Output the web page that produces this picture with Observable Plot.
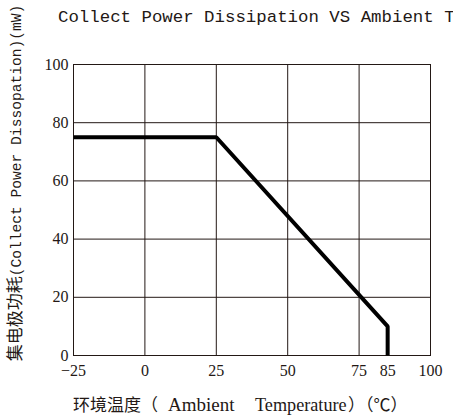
<!DOCTYPE html>
<html>
<head>
<meta charset="utf-8">
<script src="https://cdn.jsdelivr.net/npm/d3@7"></script>
<script src="https://cdn.jsdelivr.net/npm/@observablehq/plot@0.6"></script>
<style>
  html, body { margin: 0; padding: 0; background: #fff; }
</style>
</head>
<body>
<div id="chart"></div>
<script>
// Data
const tempX = [-25, 25, 85, 85];        // Ambient temperature (°C)
const powerY = [75, 75, 10, 0];         // Collector power dissipation (mW)

const xTicks = [-25, 0, 25, 50, 75, 85, 100];
const xGrid = [0, 25, 50, 75];
const yTicks = [0, 20, 40, 60, 80, 100];
const yGrid = [20, 40, 60, 80];

const titleText = "Collect Power Dissipation VS Ambient Temperature";
const yLabelCJK = "集电极功耗";
const yLabelLatin = "(Collect Power Dissopation)(mW)";
const xLabelCJK1 = "环境温度（";
const xLabelA = "Ambient";
const xLabelB = "Temperature";
const xLabelCJK2 = "）（℃）";

const ink = "#231815";

const chart = Plot.plot({
  width: 453,
  height: 419,
  marginLeft: 73,
  marginRight: 23,
  marginTop: 64,
  marginBottom: 64,
  style: {fontFamily: "'Liberation Serif', serif", fontSize: "16px", color: ink, background: "white"},
  x: {domain: [-25, 100], ticks: xTicks, tickFormat: d => d < 0 ? `−${-d}` : `${d}`, tickSize: 0, tickPadding: 9, label: null},
  y: {domain: [0, 100], ticks: yTicks, tickSize: 0, tickPadding: 5, label: null},
  marks: [
    Plot.gridX(xGrid, {stroke: ink, strokeOpacity: 1, strokeWidth: 1}),
    Plot.gridY(yGrid, {stroke: ink, strokeOpacity: 1, strokeWidth: 1}),
    Plot.frame({stroke: ink, strokeWidth: 1}),
    Plot.line(d3.range(tempX.length), {
      x: i => tempX[i],
      y: i => powerY[i],
      stroke: "#000",
      strokeWidth: 4,
      strokeLinejoin: "miter",
      strokeLinecap: "butt"
    })
  ]
});

document.getElementById("chart").appendChild(chart);

const svg = d3.select(chart);

// Title (runs off the right edge, as in the reference)
svg.append("text")
  .attr("x", 58)
  .attr("y", 22)
  .attr("text-anchor", "start")
  .attr("fill", ink)
  .style("font-family", "'Liberation Mono', monospace")
  .style("font-size", "17.4px")
  .text(titleText);

// Y axis label (rotated)
const yl = svg.append("text")
  .attr("transform", "translate(21,183) rotate(-90)")
  .attr("text-anchor", "middle")
  .attr("fill", ink);
yl.append("tspan")
  .style("font-family", "'Noto Sans CJK SC', sans-serif")
  .style("font-size", "17px")
  .text(yLabelCJK);
yl.append("tspan")
  .style("font-family", "'Liberation Mono', monospace")
  .style("font-size", "14.6px")
  .text(yLabelLatin);

// X axis label
const xl = svg.append("g").attr("fill", ink).attr("text-anchor", "start");
xl.append("text")
  .attr("x", 73).attr("y", 411)
  .style("font-family", "'Noto Sans CJK SC', sans-serif")
  .style("font-size", "17px")
  .text(xLabelCJK1);
xl.append("text")
  .attr("x", 168).attr("y", 411)
  .style("font-family", "'Liberation Serif', serif")
  .style("font-size", "19px")
  .text(xLabelA);
xl.append("text")
  .attr("x", 255).attr("y", 411)
  .style("font-family", "'Liberation Serif', serif")
  .style("font-size", "18.2px")
  .text(xLabelB);
xl.append("text")
  .attr("x", 348).attr("y", 411)
  .style("font-family", "'Noto Sans CJK SC', sans-serif")
  .style("font-size", "17px")
  .text(xLabelCJK2);
</script>
</body>
</html>
